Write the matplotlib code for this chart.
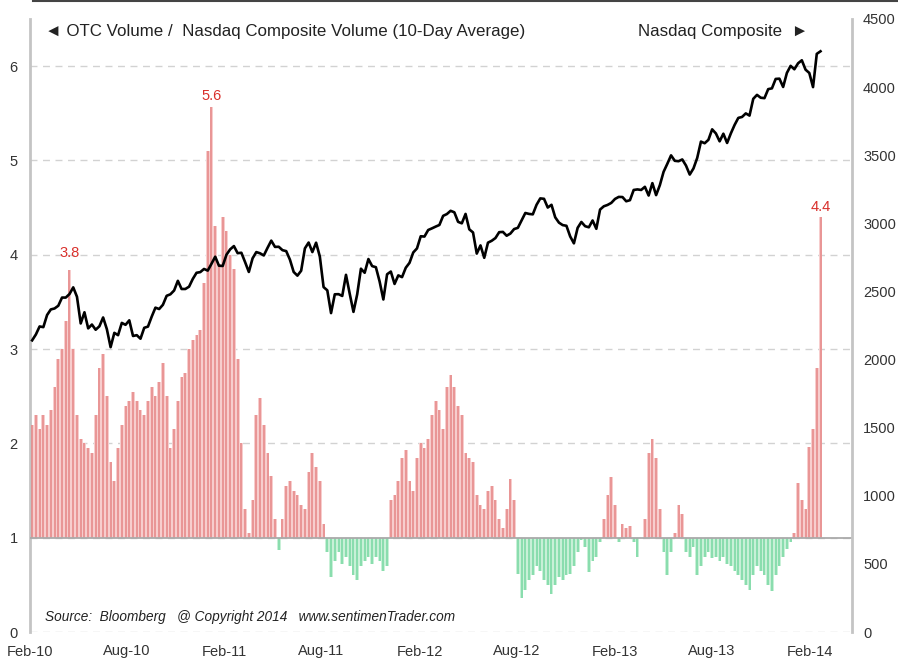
import matplotlib
matplotlib.use('Agg')
import matplotlib.pyplot as plt
import matplotlib.dates as mdates
import numpy as np
import pandas as pd
from matplotlib.lines import Line2D

plt.rcParams['font.family'] = ['Liberation Sans', 'DejaVu Sans']

# ---------------- data (weekly) ----------------
dates = pd.date_range('2010-02-05', periods=212, freq='W-FRI')

otc_ratio = [
    2.2, 2.3, 2.15, 2.3, 2.2, 2.35, 2.6, 2.9, 3.0, 3.3,
    3.84, 3.0, 2.3, 2.05, 2.0, 1.95, 1.9, 2.3, 2.8, 2.95,
    2.5, 1.8, 1.6, 1.95, 2.2, 2.4, 2.45, 2.55, 2.45, 2.35,
    2.3, 2.45, 2.6, 2.5, 2.65, 2.85, 2.5, 1.95, 2.15, 2.45,
    2.7, 2.75, 3.0, 3.1, 3.15, 3.2, 3.7, 5.1, 5.57, 4.3,
    3.9, 4.4, 4.25, 4.0, 3.85, 2.9, 2.0, 1.3, 1.05, 1.4,
    2.3, 2.48, 2.2, 1.9, 1.65, 1.2, 0.87, 1.2, 1.55, 1.6,
    1.5, 1.45, 1.35, 1.3, 1.7, 1.9, 1.75, 1.6, 1.15, 0.85,
    0.58, 0.75, 0.85, 0.72, 0.8, 0.7, 0.6, 0.55, 0.7, 0.75,
    0.8, 0.72, 0.8, 0.75, 0.65, 0.7, 1.4, 1.45, 1.6, 1.85,
    1.93, 1.6, 1.5, 1.85, 2.0, 1.95, 2.05, 2.3, 2.45, 2.35,
    2.15, 2.6, 2.72, 2.6, 2.4, 2.3, 1.9, 1.85, 1.8, 1.45,
    1.35, 1.3, 1.5, 1.55, 1.4, 1.2, 1.1, 1.3, 1.62, 1.4,
    0.62, 0.36, 0.45, 0.55, 0.6, 0.7, 0.65, 0.55, 0.5, 0.4,
    0.5, 0.58, 0.55, 0.6, 0.62, 0.7, 0.85, 0.98, 0.9, 0.64,
    0.75, 0.8, 0.95, 1.2, 1.45, 1.64, 1.35, 0.95, 1.15, 1.1,
    1.12, 0.95, 0.8, 1.0, 1.2, 1.9, 2.05, 1.85, 1.3, 0.85,
    0.6, 0.85, 1.05, 1.35, 1.25, 0.85, 0.8, 0.9, 0.6, 0.7,
    0.8, 0.85, 0.78, 0.8, 0.75, 0.8, 0.72, 0.7, 0.65, 0.6,
    0.55, 0.5, 0.45, 0.6, 0.7, 0.65, 0.6, 0.5, 0.44, 0.6,
    0.7, 0.8, 0.88, 0.95, 1.05, 1.58, 1.4, 1.3, 1.96, 2.15,
    2.8, 4.4,
]

nasdaq_2010 = [2141, 2184, 2243, 2238, 2327, 2368, 2375, 2395,
               2455, 2455, 2481, 2530, 2461, 2265, 2347, 2229, 2257,
               2219, 2244, 2309, 2223, 2091, 2196, 2179, 2269, 2255,
               2288, 2173, 2179, 2153, 2233, 2242, 2315, 2381,
               2371, 2402, 2468, 2479, 2507, 2578, 2518, 2518, 2535,
               2592, 2637, 2642, 2665, 2653]
nasdaq_2011 = [2703, 2755, 2689, 2687, 2769, 2809, 2833, 2781,
               2784, 2715, 2643, 2743, 2789, 2780, 2764, 2820, 2873,
               2827, 2828, 2803, 2796, 2733, 2643, 2616, 2652,
               2816, 2859, 2789, 2858, 2756, 2532, 2508, 2341, 2479,
               2480, 2467, 2622, 2483, 2350, 2479, 2667, 2637, 2738,
               2686, 2678, 2573, 2441, 2626, 2646, 2555, 2618, 2605]
nasdaq_2012 = [2674, 2710, 2786, 2816, 2905, 2903, 2951, 2963,
               2976, 2988, 3055, 3068, 3092, 3081, 3011, 3000, 3069,
               2956, 2933, 2778, 2838, 2747, 2858, 2872, 2892, 2935,
               2937, 2909, 2925, 2958, 2967, 3021, 3076, 3069, 3066,
               3136, 3183, 3180, 3116, 3136, 3044, 3005, 2987,
               2982, 2904, 2853, 2967, 3010, 2979, 2971, 3021, 2960]
nasdaq_2013 = [3101, 3125, 3135, 3150, 3179, 3194, 3193, 3162,
               3170, 3245, 3249, 3245, 3268, 3204, 3295, 3207, 3280,
               3378, 3437, 3499, 3459, 3456, 3469, 3424, 3358, 3403,
               3480, 3600, 3588, 3613, 3690, 3660, 3602, 3658, 3590,
               3660, 3722, 3774, 3781, 3807, 3791, 3914, 3943,
               3922, 3919, 3985, 3991, 4060, 4062, 4001, 4104, 4156]
nasdaq_2014 = [4131, 4175, 4197, 4128, 4104, 4000, 4244, 4263]
nasdaq = nasdaq_2010 + nasdaq_2011 + nasdaq_2012 + nasdaq_2013 + nasdaq_2014

peak_labels = ['3.8', '5.6', '4.4']
peak_index = [10, 48, 211]
peak_offset_px = [10, 4, 3]

left_ticks = [0, 1, 2, 3, 4, 5, 6]
right_ticks = [0, 500, 1000, 1500, 2000, 2500, 3000, 3500, 4000, 4500]

# ---------------- figure ----------------
W, H = 898, 658
fig = plt.figure(figsize=(W / 100, H / 100), dpi=100)
ax = fig.add_axes([30 / W, 1 - 632 / H, 822 / W, 613 / H])
ax2 = ax.twinx()

ratio = np.array(otc_ratio)
up = ratio >= 1
dn = ~up
width = pd.Timedelta(days=7)

red_light, red_dark = '#f7cdcd', '#e68686'
grn_light, grn_dark = '#c8f0d7', '#78d8a2'

ax.bar(dates[up], ratio[up] - 1, bottom=1, width=width, color=red_light,
       linewidth=0, zorder=2)
ax.vlines(dates[up], 1, ratio[up], color=red_dark, lw=1.1, zorder=3)
ax.bar(dates[dn], ratio[dn] - 1, bottom=1, width=width, color=grn_light,
       linewidth=0, zorder=2)
ax.vlines(dates[dn], ratio[dn], 1, color=grn_dark, lw=1.1, zorder=3)

ax.axhline(1, color='#aaaaaa', lw=1.3, zorder=4)

ax.set_ylim(0, 6.5)
ax.set_yticks(left_ticks)
ax.set_axisbelow(True)
ax.yaxis.grid(True, linestyle=(0, (5, 4)), color='#d2d2d2', lw=1.0)
ax.set_xlim(pd.Timestamp('2010-02-01'), pd.Timestamp('2014-04-21'))

xt = [pd.Timestamp(f'{y}-{m:02d}-01') for y in range(2010, 2015) for m in (2, 8)
      if pd.Timestamp(f'{y}-{m:02d}-01') <= pd.Timestamp('2014-02-01')]
ax.set_xticks(xt)
ax.xaxis.set_major_formatter(mdates.DateFormatter('%b-%y'))

for s in ['top', 'bottom', 'right']:
    ax.spines[s].set_visible(False)
ax.spines['left'].set_color('#c4c4c4')
ax.spines['left'].set_linewidth(2.0)
ax.tick_params(axis='y', length=0, pad=9, labelsize=10.5, labelcolor='#333333')
ax.tick_params(axis='x', length=0, pad=9, labelsize=10.5, labelcolor='#333333')

ax2.plot(dates, nasdaq, color='black', lw=1.9, zorder=5)
ax2.set_ylim(0, 4500)
ax2.set_yticks(right_ticks)
for s in ['top', 'bottom', 'left']:
    ax2.spines[s].set_visible(False)
ax2.spines['right'].set_color('#c4c4c4')
ax2.spines['right'].set_linewidth(2.0)
ax2.tick_params(axis='y', length=0, pad=8, labelsize=10.5, labelcolor='#333333')

for lab, idx, off in zip(peak_labels, peak_index, peak_offset_px):
    ax.annotate(lab, (dates[idx], ratio[idx]), xytext=(0, off),
                textcoords='offset pixels', ha='center', va='bottom',
                color='#d9302c', fontsize=10.5, zorder=6)

ax.text(0.018, 0.979, '\u25c4 OTC Volume /  Nasdaq Composite Volume (10-Day Average)',
        transform=ax.transAxes, ha='left', va='center', fontsize=12.2,
        color='#222222', family=['Liberation Sans', 'DejaVu Sans'])
ax.text(0.9465, 0.979, 'Nasdaq Composite  \u25ba', transform=ax.transAxes,
        ha='right', va='center', fontsize=12.2, color='#222222',
        family=['Liberation Sans', 'DejaVu Sans'])
ax.text(0.018, 0.0245,
        'Source:  Bloomberg   @ Copyright 2014   www.sentimenTrader.com',
        transform=ax.transAxes, ha='left', va='center', fontsize=9.8,
        style='italic', color='#222222')

fig.add_artist(Line2D([33 / W, 1.0], [1 - 1 / H, 1 - 1 / H], color='#444444', lw=1.5))

fig.savefig('out.png', dpi=100)
